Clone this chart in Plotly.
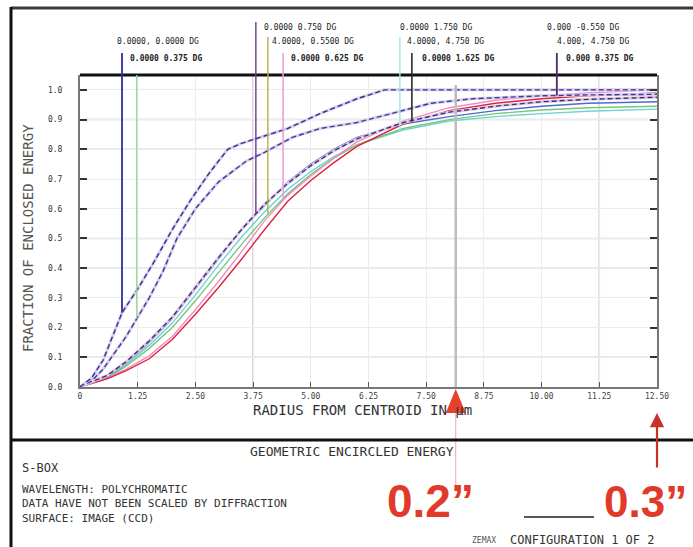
import numpy as np
import plotly.graph_objects as go

# ---------------- data ----------------
x_ticks = [0, 1.25, 2.5, 3.75, 5.0, 6.25, 7.5, 8.75, 10.0, 11.25, 12.5]
x_tick_text = ["0", "1.25", "2.50", "3.75", "5.00", "6.25", "7.50", "8.75", "10.00", "11.25", "12.50"]
y_ticks = [0.0, 0.1, 0.2, 0.3, 0.4, 0.5, 0.6, 0.7, 0.8, 0.9, 1.0]
y_tick_text = ["0.0", "0.1", "0.2", "0.3", "0.4", "0.5", "0.6", "0.7", "0.8", "0.9", "1.0"]

# two fast (dashed) fields
radius_a = [0, 0.25, 0.5, 0.91, 1.25, 1.6, 2.0, 2.4, 2.8, 3.2, 3.5, 3.9, 4.5, 5.2, 6.0, 6.6, 8.0, 10.0, 12.5]
ee_a = [0, 0.03, 0.09, 0.25, 0.33, 0.42, 0.53, 0.63, 0.72, 0.80, 0.82, 0.84, 0.87, 0.92, 0.97, 1.0, 1.0, 1.0, 1.0]
radius_b = [0, 0.25, 0.5, 1.0, 1.23, 1.5, 1.8, 2.1, 2.5, 3.0, 3.6, 4.0, 4.6, 5.2, 6.0, 7.0, 7.6, 8.5, 10.0, 11.0, 12.5]
ee_b = [0, 0.02, 0.06, 0.17, 0.23, 0.30, 0.39, 0.50, 0.60, 0.69, 0.76, 0.79, 0.84, 0.87, 0.89, 0.93, 0.955, 0.97, 0.98, 0.983, 0.985]

# slower fields sharing one radius grid
radius_s = [0, 0.6, 1.0, 1.5, 2.0, 2.5, 3.0, 3.5, 4.0, 4.5, 5.0, 5.5, 6.0, 7.0, 8.0, 9.0, 10.0, 11.0, 12.5]
ee_blue = [0, 0.035, 0.08, 0.15, 0.23, 0.33, 0.43, 0.53, 0.61, 0.69, 0.75, 0.80, 0.84, 0.885, 0.91, 0.93, 0.945, 0.955, 0.96]
ee_purple = [0, 0.04, 0.085, 0.155, 0.235, 0.335, 0.435, 0.53, 0.615, 0.685, 0.745, 0.795, 0.835, 0.89, 0.925, 0.945, 0.96, 0.968, 0.975]
ee_cyan = [0, 0.032, 0.075, 0.14, 0.215, 0.31, 0.41, 0.505, 0.59, 0.665, 0.725, 0.775, 0.815, 0.865, 0.895, 0.91, 0.92, 0.928, 0.935]
ee_green = [0, 0.03, 0.07, 0.13, 0.20, 0.29, 0.385, 0.48, 0.57, 0.65, 0.715, 0.77, 0.815, 0.87, 0.90, 0.92, 0.932, 0.94, 0.945]
ee_pink = [0, 0.03, 0.06, 0.105, 0.17, 0.26, 0.355, 0.455, 0.56, 0.645, 0.71, 0.77, 0.825, 0.895, 0.94, 0.965, 0.98, 0.99, 1.0]
ee_red = [0, 0.028, 0.055, 0.095, 0.16, 0.245, 0.335, 0.43, 0.53, 0.625, 0.695, 0.755, 0.81, 0.885, 0.93, 0.955, 0.97, 0.98, 0.99]

field_labels_row1 = ["0.0000 0.750 DG", "0.0000 1.750 DG", "0.000 -0.550 DG"]
field_labels_row2 = ["0.0000, 0.0000 DG", "4.0000, 0.5500 DG", "4.0000, 4.750 DG", "4.000, 4.750 DG"]
field_labels_row3 = ["0.0000 0.375 DG", "0.0000 0.625 DG", "0.0000 1.625 DG", "0.000 0.375 DG"]

footer_lines = ["WAVELENGTH: POLYCHROMATIC",
                "DATA HAVE NOT BEEN SCALED BY DIFFRACTION",
                "SURFACE: IMAGE (CCD)"]

# ---------------- geometry helpers ----------------
W, H = 693, 547
ML, MR, MT, MB = 80, 36, 75, 160
PW, PH = W - ML - MR, H - MT - MB
X_MAX, Y_MAX = 12.5, 1.05


def px(xp):
    return (xp - ML) / PW


def py(yp):
    return (H - MB - yp) / PH


MONO = "DejaVu Sans Mono"

fig = go.Figure()

curves = {
    "A": (radius_a, ee_a), "B": (radius_b, ee_b),
    "blue": (radius_s, ee_blue), "purple": (radius_s, ee_purple),
    "cyan": (radius_s, ee_cyan), "green": (radius_s, ee_green),
    "pink": (radius_s, ee_pink), "red": (radius_s, ee_red),
}

# solid coloured fields
for key, col in [("cyan", "#6fd3d3"), ("green", "#79c879"), ("blue", "#4a6ad8"),
                 ("pink", "#ee8fc0"), ("red", "#e0203f")]:
    xs, ys = curves[key]
    fig.add_trace(go.Scatter(x=xs, y=ys, mode="lines", line=dict(color=col, width=1.4),
                             hoverinfo="skip", showlegend=False))

# dashed fields drawn over a soft halo
for key, halo, col in [("purple", "#d9cce6", "#4b2a72"), ("B", "#d6d0ea", "#4636a0"),
                       ("A", "#d6d0ea", "#3a2a96")]:
    xs, ys = curves[key]
    fig.add_trace(go.Scatter(x=xs, y=ys, mode="lines", line=dict(color=halo, width=3),
                             hoverinfo="skip", showlegend=False))
    fig.add_trace(go.Scatter(x=xs, y=ys, mode="lines",
                             line=dict(color=col, width=1.4, dash="5px,3px"),
                             hoverinfo="skip", showlegend=False))

shapes = []

# emphasised grid lines
for yv in [0.1, 0.4, 0.5, 0.8, 0.9]:
    shapes.append(dict(type="line", xref="paper", yref="y", x0=0, x1=1, y0=yv, y1=yv,
                       line=dict(color="#cfcfcf", width=1.5), layer="below"))
for xv in [3.75, 11.25]:
    shapes.append(dict(type="line", xref="x", yref="paper", x0=xv, x1=xv, y0=0, y1=1,
                       line=dict(color="#c4c4c4", width=1.5), layer="below"))

# heavy top border of the plot box
shapes.append(dict(type="line", xref="paper", yref="paper", x0=0, x1=1, y0=1, y1=1,
                   line=dict(color="#111", width=3)))

# leader lines from field labels down to their curves
row_top = {1: py(22), 2: py(37), 3: py(53), 0: 1.0}
leaders = [
    (0.91, "A", "#2e2ea8", 3, 1.8),
    (1.23, "B", "#90e090", 0, 1.4),
    (3.81, "purple", "#6a3a8a", 1, 1.4),
    (4.07, "green", "#b0b050", 2, 1.4),
    (4.40, "pink", "#eaa0dc", 3, 1.6),
    (6.93, "cyan", "#9ae6e6", 2, 1.4),
    (7.19, "red", "#2a2a2a", 3, 1.6),
    (10.33, "B", "#4a2a70", 3, 1.8),
]
for xl, key, col, row, wd in leaders:
    xs, ys = curves[key]
    yc = float(np.interp(xl, xs, ys)) / Y_MAX
    shapes.append(dict(type="line", xref="x", yref="paper", x0=xl, x1=xl, y0=yc, y1=row_top[row],
                       line=dict(color=col, width=wd)))

# 0.2 arcsec marker line
r02 = 8.14
shapes.append(dict(type="line", xref="x", yref="paper", x0=r02, x1=r02, y0=0, y1=py(85),
                   line=dict(color="#bdbdbd", width=2.5)))
shapes.append(dict(type="line", xref="x", yref="paper", x0=r02, x1=r02, y0=py(412), y1=py(485),
                   line=dict(color="#f2a6a6", width=1)))
ax02 = px(ML + r02 / X_MAX * PW)
shapes.append(dict(type="path", xref="paper", yref="paper",
                   path=f"M {ax02} {py(389)} L {ax02 - 10 / PW} {py(413)} L {ax02 + 10 / PW} {py(413)} Z",
                   fillcolor="#e8402a", line=dict(width=0)))

# outer frame and footer separator
shapes.append(dict(type="line", xref="paper", yref="paper", x0=px(11), x1=px(693), y0=py(8), y1=py(8),
                   line=dict(color="#3a3a3a", width=3)))
shapes.append(dict(type="line", xref="paper", yref="paper", x0=px(11), x1=px(11), y0=py(7), y1=py(547),
                   line=dict(color="#111", width=3)))
shapes.append(dict(type="line", xref="paper", yref="paper", x0=px(11), x1=px(693), y0=py(440), y1=py(440),
                   line=dict(color="#111", width=3)))
# blank between the two arcsec values
shapes.append(dict(type="line", xref="paper", yref="paper", x0=px(524), x1=px(594), y0=py(517), y1=py(517),
                   line=dict(color="#555", width=2)))

annotations = []


def txt(x, y, s, size=8, color="#222", anchor="left", family=MONO, **kw):
    annotations.append(dict(x=px(x), y=py(y), xref="paper", yref="paper", text=s, showarrow=False,
                            xanchor=anchor, yanchor="middle", font=dict(family=family, size=size, color=color), **kw))


# field labels
for xp, s in zip([262, 398, 545], field_labels_row1):
    txt(xp, 27, s)
for xp, s in zip([115, 270, 405, 555], field_labels_row2):
    txt(xp, 42, s)
for xp, s in zip([128, 289, 420, 564], field_labels_row3):
    txt(xp, 59, "<b>" + s + "</b>")

# axis titles
txt(362, 410, "RADIUS FROM CENTROID IN µm", size=14, color="#333", anchor="center")
annotations.append(dict(x=px(28), y=py(238), xref="paper", yref="paper", text="FRACTION OF ENCLOSED ENERGY",
                        showarrow=False, textangle=-90, xanchor="center", yanchor="middle",
                        font=dict(family=MONO, size=14, color="#555")))

# footer text
txt(352, 451, "GEOMETRIC ENCIRCLED ENERGY", size=13, color="#333", anchor="center")
txt(20, 468, "S-BOX", size=12, color="#333")
txt(20, 504, "<br>".join(footer_lines), size=11, color="#333", align="left")
txt(470, 540, "ZEMAX", size=8, color="#555")
txt(508, 540, "CONFIGURATION 1 OF 2", size=12, color="#333")

# arcsec callouts
BIG = "Liberation Sans Narrow, Liberation Sans, Arial"
txt(430, 501, "<b>0.2”</b>", size=46, color="#e23a2a", anchor="center", family=BIG)
txt(689, 501, "<b>0.3”</b>", size=44, color="#e23a2a", anchor="right", family=BIG)
annotations.append(dict(x=1.0, y=py(413), xref="paper", yref="paper", ax=0, ay=56, text="",
                        showarrow=True, arrowhead=2, arrowsize=1.3, arrowwidth=2.2, arrowcolor="#c9302a"))

fig.update_layout(
    width=W, height=H,
    margin=dict(l=ML, r=MR, t=MT, b=MB, pad=0),
    paper_bgcolor="white", plot_bgcolor="white",
    showlegend=False,
    shapes=shapes, annotations=annotations,
    xaxis=dict(range=[0, X_MAX], tickvals=x_ticks, ticktext=x_tick_text,
               showgrid=True, gridcolor="#ececec", gridwidth=1, zeroline=False,
               showline=True, linecolor="#777", linewidth=2,
               ticks="inside", ticklen=5, tickcolor="#555",
               tickfont=dict(family=MONO, size=8, color="#444")),
    yaxis=dict(range=[0, Y_MAX], tickvals=y_ticks, ticktext=y_tick_text,
               showgrid=True, gridcolor="#ececec", gridwidth=1, zeroline=False,
               showline=True, linecolor="#777", linewidth=2, mirror="ticks",
               ticks="inside", ticklen=7, tickcolor="#333", tickwidth=1.5,
               ticklabelstandoff=14,
               tickfont=dict(family=MONO, size=8, color="#333")),
)

fig.write_html("out.html")
